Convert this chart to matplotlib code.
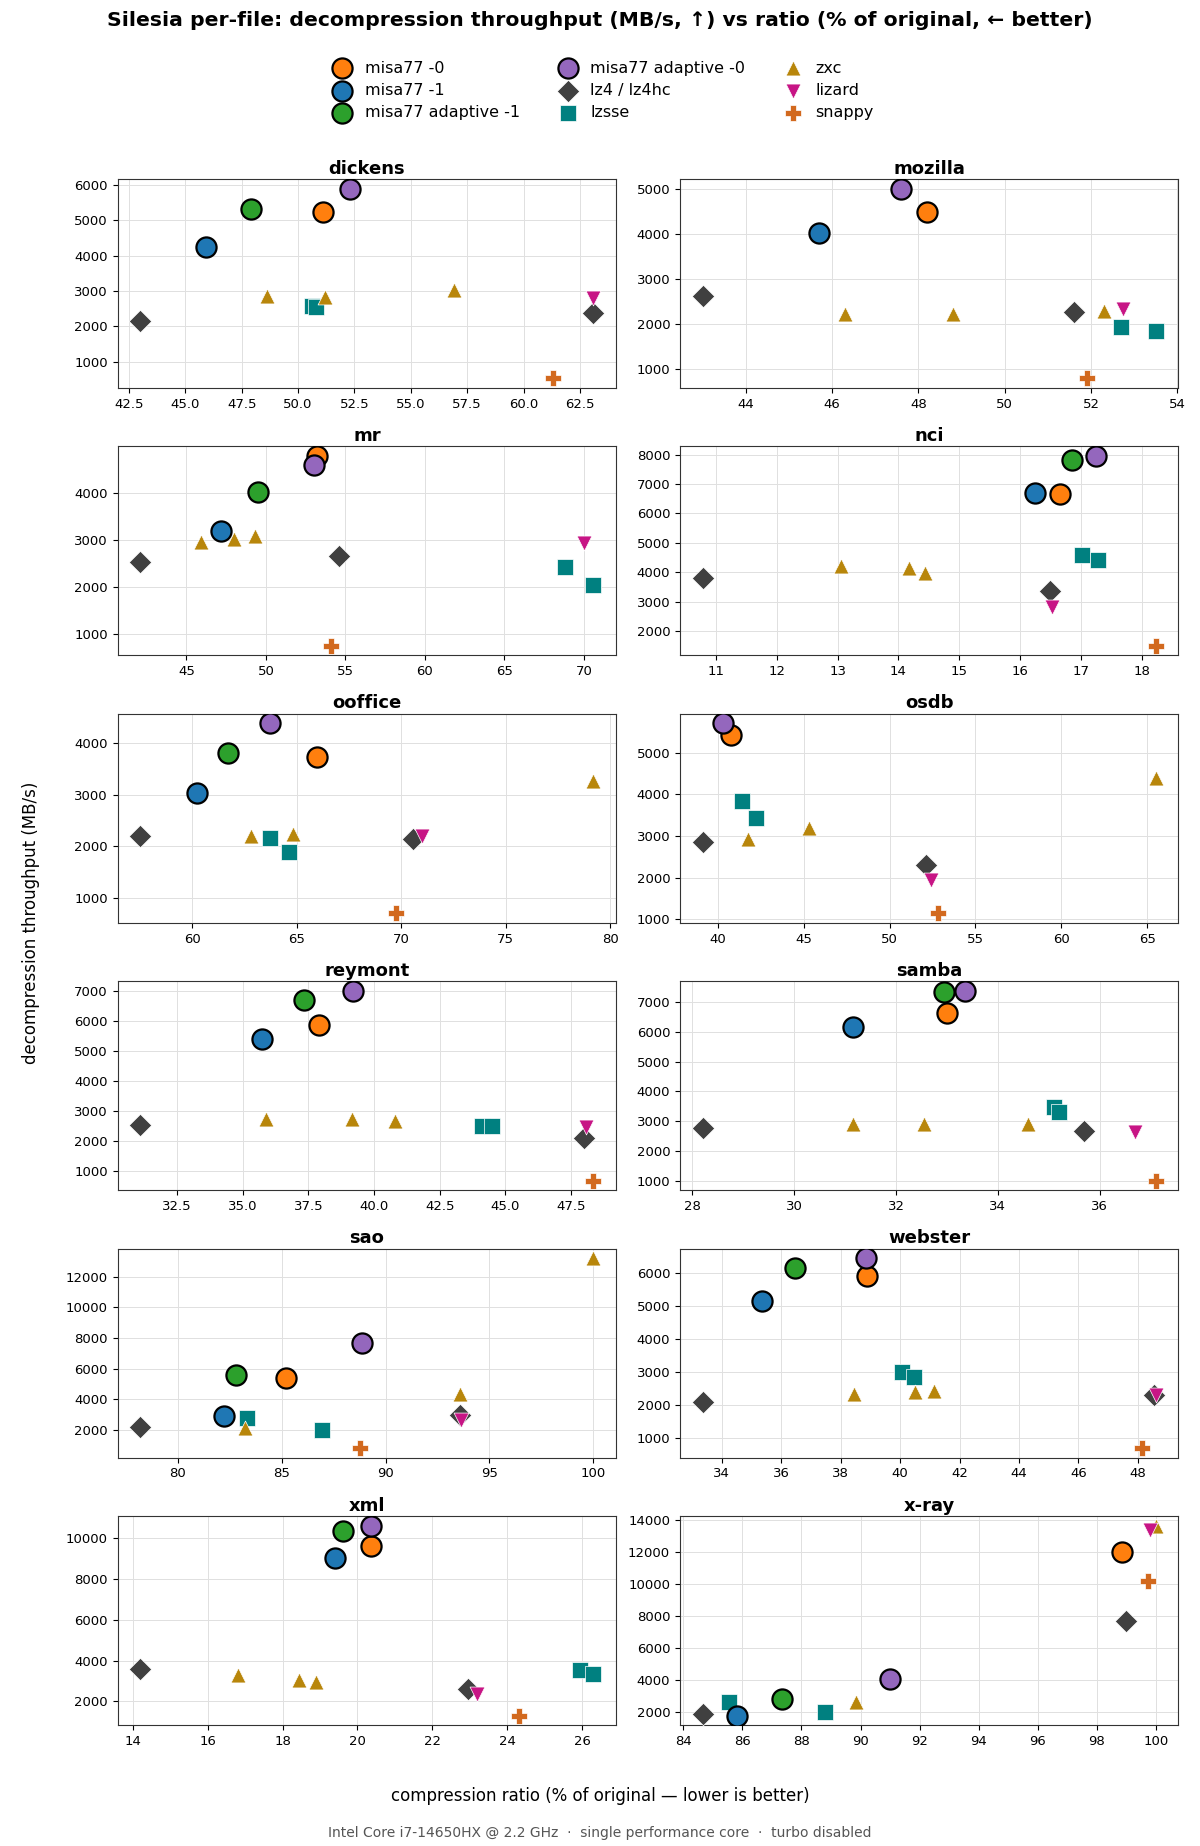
import matplotlib
matplotlib.use("Agg")
import matplotlib.pyplot as plt
from matplotlib.ticker import MaxNLocator

# codec order in the legend (filled column by column)
codecs = ["misa77 -0", "misa77 -1", "misa77 adaptive -1", "misa77 adaptive -0",
          "lz4 / lz4hc", "lzsse", "zxc", "lizard", "snappy"]
colors = ["#ff7f0e", "#1f77b4", "#2ca02c", "#9467bd",
          "#404040", "#008080", "#b8860b", "#c71585", "#d2691e"]
markers = ["o", "o", "o", "o", "D", "s", "^", "v", "P"]
sizes = [210, 210, 210, 210, 130, 120, 115, 115, 125]

# (codec, ratio % of original, decompression MB/s) per Silesia file
dickens = [("misa77 -0", 51.1, 5240), ("misa77 -1", 45.9, 4240),
           ("misa77 adaptive -1", 47.9, 5320), ("misa77 adaptive -0", 52.3, 5890),
           ("lz4 / lz4hc", 43.0, 2140), ("lz4 / lz4hc", 63.1, 2390),
           ("lzsse", 50.6, 2580), ("lzsse", 50.8, 2540),
           ("zxc", 48.6, 2860), ("zxc", 51.2, 2830), ("zxc", 56.9, 3040),
           ("lizard", 63.1, 2790), ("snappy", 61.3, 530)]
mozilla = [("misa77 -0", 48.2, 4480), ("misa77 -1", 45.7, 4030),
           ("misa77 adaptive -0", 47.6, 5010),
           ("lz4 / lz4hc", 43.0, 2620), ("lz4 / lz4hc", 51.6, 2270),
           ("lzsse", 52.7, 1940), ("lzsse", 53.5, 1850),
           ("zxc", 46.3, 2220), ("zxc", 48.8, 2220), ("zxc", 52.3, 2290),
           ("lizard", 52.75, 2340), ("snappy", 51.9, 800)]
mr = [("misa77 -0", 53.2, 4790), ("misa77 -1", 47.2, 3200),
      ("misa77 adaptive -1", 49.5, 4030), ("misa77 adaptive -0", 53.0, 4590),
      ("lz4 / lz4hc", 42.1, 2540), ("lz4 / lz4hc", 54.6, 2670),
      ("lzsse", 68.8, 2420), ("lzsse", 70.6, 2040),
      ("zxc", 45.9, 2950), ("zxc", 48.0, 3030), ("zxc", 49.3, 3090),
      ("lizard", 70.0, 2930), ("snappy", 54.1, 750)]
nci = [("misa77 -0", 16.66, 6670), ("misa77 -1", 16.25, 6690),
       ("misa77 adaptive -1", 16.86, 7820), ("misa77 adaptive -0", 17.25, 7950),
       ("lz4 / lz4hc", 10.78, 3790), ("lz4 / lz4hc", 16.49, 3350),
       ("lzsse", 17.01, 4600), ("lzsse", 17.28, 4430),
       ("zxc", 13.05, 4210), ("zxc", 14.18, 4130), ("zxc", 14.43, 3980),
       ("lizard", 16.53, 2830), ("snappy", 18.23, 1500)]
ooffice = [("misa77 -0", 65.95, 3740), ("misa77 -1", 60.2, 3030),
           ("misa77 adaptive -1", 61.7, 3820), ("misa77 adaptive -0", 63.7, 4390),
           ("lz4 / lz4hc", 57.5, 2210), ("lz4 / lz4hc", 70.55, 2150),
           ("lzsse", 63.7, 2170), ("lzsse", 64.6, 1890),
           ("zxc", 62.8, 2200), ("zxc", 64.8, 2240), ("zxc", 79.2, 3270),
           ("lizard", 71.0, 2200), ("snappy", 69.75, 700)]
osdb = [("misa77 -0", 40.75, 5430), ("misa77 adaptive -0", 40.3, 5700),
        ("lz4 / lz4hc", 39.1, 2850), ("lz4 / lz4hc", 52.1, 2290),
        ("lzsse", 41.4, 3830), ("lzsse", 42.2, 3430),
        ("zxc", 41.75, 2930), ("zxc", 45.3, 3190), ("zxc", 65.5, 4380),
        ("lizard", 52.4, 1930), ("snappy", 52.8, 1140)]
reymont = [("misa77 -0", 37.9, 5860), ("misa77 -1", 35.75, 5390),
           ("misa77 adaptive -1", 37.35, 6710), ("misa77 adaptive -0", 39.2, 7000),
           ("lz4 / lz4hc", 31.1, 2540), ("lz4 / lz4hc", 48.0, 2110),
           ("lzsse", 44.1, 2480), ("lzsse", 44.5, 2480),
           ("zxc", 35.9, 2740), ("zxc", 39.15, 2740), ("zxc", 40.8, 2670),
           ("lizard", 48.05, 2450), ("snappy", 48.35, 670)]
samba = [("misa77 -0", 33.0, 6630), ("misa77 -1", 31.15, 6160),
         ("misa77 adaptive -1", 32.95, 7320), ("misa77 adaptive -0", 33.35, 7370),
         ("lz4 / lz4hc", 28.2, 2780), ("lz4 / lz4hc", 35.7, 2670),
         ("lzsse", 35.1, 3470), ("lzsse", 35.2, 3300),
         ("zxc", 31.15, 2900), ("zxc", 32.55, 2900), ("zxc", 34.6, 2900),
         ("lizard", 36.7, 2630), ("snappy", 37.1, 1010)]
sao = [("misa77 -0", 85.2, 5410), ("misa77 -1", 82.25, 2950),
       ("misa77 adaptive -1", 82.8, 5560), ("misa77 adaptive -0", 88.85, 7700),
       ("lz4 / lz4hc", 78.2, 2240), ("lz4 / lz4hc", 93.6, 3000),
       ("lzsse", 83.35, 2780), ("lzsse", 86.95, 2020),
       ("zxc", 83.25, 2130), ("zxc", 93.6, 4370), ("zxc", 100.0, 13190),
       ("lizard", 93.65, 2670), ("snappy", 88.75, 830)]
webster = [("misa77 -0", 38.9, 5910), ("misa77 -1", 35.35, 5140),
           ("misa77 adaptive -1", 36.45, 6140), ("misa77 adaptive -0", 38.85, 6440),
           ("lz4 / lz4hc", 33.35, 2090), ("lz4 / lz4hc", 48.55, 2290),
           ("lzsse", 40.05, 2980), ("lzsse", 40.45, 2850),
           ("zxc", 38.45, 2330), ("zxc", 40.5, 2370), ("zxc", 41.15, 2410),
           ("lizard", 48.6, 2290), ("snappy", 48.15, 680)]
xml = [("misa77 -0", 20.35, 9630), ("misa77 -1", 19.4, 9010),
       ("misa77 adaptive -1", 19.6, 10360), ("misa77 adaptive -0", 20.35, 10620),
       ("lz4 / lz4hc", 14.2, 3590), ("lz4 / lz4hc", 22.95, 2590),
       ("lzsse", 25.95, 3530), ("lzsse", 26.3, 3320),
       ("zxc", 16.8, 3290), ("zxc", 18.45, 3070), ("zxc", 18.9, 2960),
       ("lizard", 23.2, 2360), ("snappy", 24.3, 1300)]
xray = [("misa77 -0", 98.85, 12000), ("misa77 -1", 85.8, 1770),
        ("misa77 adaptive -1", 87.35, 2830), ("misa77 adaptive -0", 91.0, 4040),
        ("lz4 / lz4hc", 84.65, 1850), ("lz4 / lz4hc", 99.0, 7670),
        ("lzsse", 85.55, 2610), ("lzsse", 88.8, 1980),
        ("zxc", 89.85, 2630), ("zxc", 100.0, 13670),
        ("lizard", 99.8, 13420), ("snappy", 99.75, 10230)]

files = ["dickens", "mozilla", "mr", "nci", "ooffice", "osdb",
         "reymont", "samba", "sao", "webster", "xml", "x-ray"]
results = [dickens, mozilla, mr, nci, ooffice, osdb,
           reymont, samba, sao, webster, xml, xray]

W, H = 1200, 1846
fig, axes = plt.subplots(6, 2, figsize=(W / 100, H / 100), dpi=100)
fig.subplots_adjust(left=0.098, right=0.982, top=0.903, bottom=0.0655,
                    hspace=0.28, wspace=0.128)

handles = {}
for ax, name, rows in zip(axes.flat, files, results):
    for i, c in enumerate(codecs):
        xs = [r[1] for r in rows if r[0] == c]
        ys = [r[2] for r in rows if r[0] == c]
        if not xs:
            continue
        if markers[i] == "o":
            h = ax.scatter(xs, ys, s=sizes[i], c=colors[i], marker="o",
                           edgecolors="black", linewidths=1.6, zorder=4, label=c)
        else:
            h = ax.scatter(xs, ys, s=sizes[i], c=colors[i], marker=markers[i],
                           edgecolors="white", linewidths=0.5, zorder=3, label=c)
        handles.setdefault(c, h)
    ax.set_title(name, fontsize=13, fontweight="bold", pad=4)
    ax.yaxis.set_major_locator(MaxNLocator(nbins=8, steps=[1, 2, 5, 10]))
    ax.grid(True, color="#e0e0e0", linewidth=0.7)
    ax.set_axisbelow(True)
    ax.tick_params(labelsize=9.5)
    for sp in ax.spines.values():
        sp.set_color("#333333")

fig.suptitle("Silesia per-file: decompression throughput (MB/s, \u2191) vs ratio "
             "(% of original, \u2190 better)", fontsize=14.7, fontweight="bold", y=0.994)
fig.legend([handles[c] for c in codecs], codecs, loc="upper center",
           bbox_to_anchor=(0.5, 0.975), ncol=3, frameon=False, fontsize=11.5,
           handletextpad=0.4, columnspacing=2.0, labelspacing=0.45)
fig.text(0.5, 1 - 1796 / H, "compression ratio (% of original \u2014 lower is better)",
         ha="center", va="center", fontsize=12)
fig.text(0.026, 0.5, "decompression throughput (MB/s)", rotation=90,
         ha="center", va="center", fontsize=12)
fig.text(0.5, 1 - 1833 / H, "Intel Core i7-14650HX @ 2.2 GHz  \u00b7  single performance core"
         "  \u00b7  turbo disabled", ha="center", va="center", fontsize=10, color="#555555")

fig.savefig("out.png", dpi=100)
